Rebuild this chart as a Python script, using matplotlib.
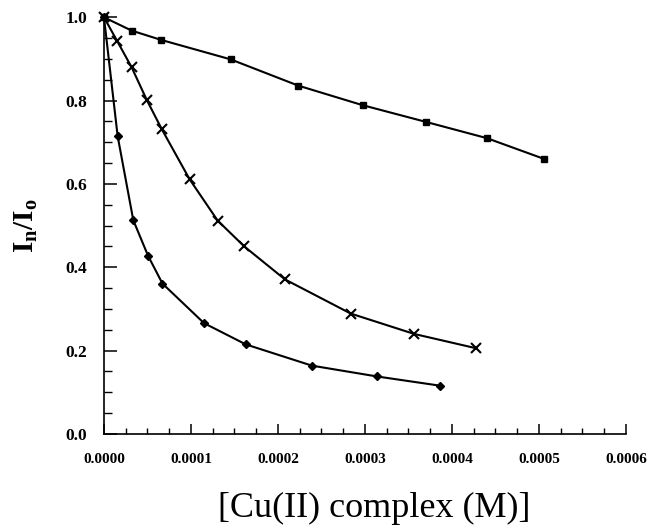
import numpy as np
import matplotlib
matplotlib.use("Agg")
import matplotlib.pyplot as plt
from matplotlib.ticker import MultipleLocator, FormatStrFormatter

# values
conc_a = [0.0, 0.0000318, 0.0000652, 0.0001456, 0.0002233, 0.0002974, 0.000370, 0.000440, 0.000506]
ratio_a = [1.0, 0.968, 0.946, 0.899, 0.836, 0.789, 0.749, 0.710, 0.660]

conc_b = [0.0, 0.0000149, 0.0000318, 0.0000491, 0.0000663, 0.0000985, 0.0001307,
          0.0001613, 0.000208, 0.0002836, 0.0003567, 0.0004272]
ratio_b = [1.0, 0.944, 0.880, 0.802, 0.732, 0.611, 0.512, 0.450, 0.371, 0.289, 0.240, 0.206]

conc_c = [0.0, 0.0000157, 0.0000337, 0.0000506, 0.0000672, 0.000115, 0.000163,
          0.000239, 0.000314, 0.000386]
ratio_c = [1.0, 0.715, 0.513, 0.428, 0.361, 0.266, 0.215, 0.164, 0.138, 0.116]

plt.rcParams['font.family'] = ['Liberation Serif', 'DejaVu Serif']
plt.rcParams['mathtext.fontset'] = 'custom'
plt.rcParams['mathtext.rm'] = 'Liberation Serif'
plt.rcParams['mathtext.bf'] = 'Liberation Serif:bold'

fig = plt.figure(figsize=(6.47, 5.27), dpi=100)
ax = fig.add_axes([0.1607, 0.1765, 0.8068, 0.7907])

ax.plot(conc_a, ratio_a, color='black', lw=1.5, marker='s', ms=4.5, clip_on=False)
ax.plot(conc_b, ratio_b, color='black', lw=1.5, marker='x', ms=6.5, mew=1.5, clip_on=False)
ax.plot(conc_c, ratio_c, color='black', lw=1.5, marker='D', ms=4.2, clip_on=False)

ax.set_xlim(0, 0.0006)
ax.set_ylim(0, 1.0)
ax.spines['top'].set_visible(False)
ax.spines['right'].set_visible(False)
ax.spines['left'].set_linewidth(1.2)
ax.spines['bottom'].set_linewidth(1.2)

ax.xaxis.set_major_locator(MultipleLocator(0.0001))
ax.xaxis.set_minor_locator(MultipleLocator(0.000025))
ax.yaxis.set_major_locator(MultipleLocator(0.2))
ax.yaxis.set_minor_locator(MultipleLocator(0.05))
ax.xaxis.set_major_formatter(FormatStrFormatter('%.4f'))
ax.yaxis.set_major_formatter(FormatStrFormatter('%.1f'))

ax.tick_params(axis='both', which='both', direction='in', color='black')
ax.tick_params(axis='x', which='major', length=7, width=1.1, pad=14, labelsize=11)
ax.tick_params(axis='x', which='minor', length=4, width=1.0)
ax.tick_params(axis='y', which='major', length=9, width=1.1, pad=12, labelsize=12.5)
ax.tick_params(axis='y', which='minor', length=6, width=1.0)
for lab in ax.get_xticklabels() + ax.get_yticklabels():
    lab.set_fontweight('bold')

ax.set_xlabel('[Cu(II) complex (M)]', fontsize=26)
ax.xaxis.set_label_coords(0.517, -0.138, transform=ax.transAxes)
ax.xaxis.label.set_va('top')
ax.set_ylabel(r'$\mathbf{I_n/I_o}$', fontsize=21, labelpad=18)

fig.savefig('out.png', dpi=100)
